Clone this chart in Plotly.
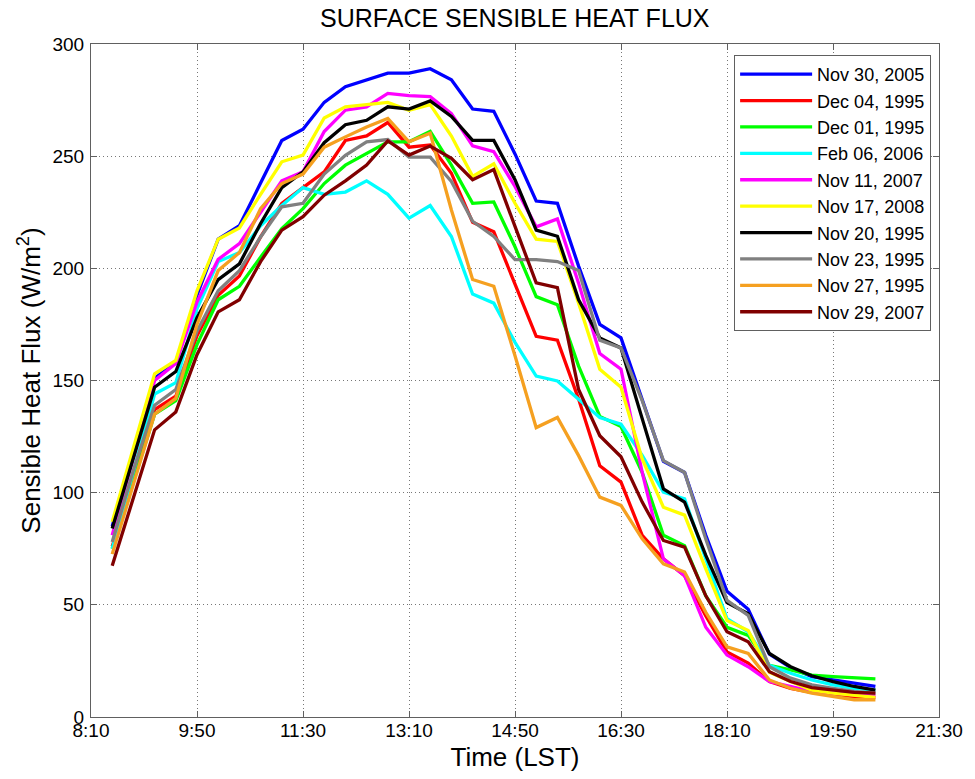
import plotly.graph_objects as go

# Time axis: minutes after midnight (8:30 .. 20:30 every 20 min)
times_min = list(range(510, 1231, 20))
tick_vals = [490, 590, 690, 790, 890, 990, 1090, 1190, 1290]
tick_text = ["8:10", "9:50", "11:30", "13:10", "14:50", "16:30", "18:10", "19:50", "21:30"]
y_ticks = [0, 50, 100, 150, 200, 250, 300]

nov30_2005 = [85, 118, 151, 158, 188, 213, 219, 238, 257, 262, 274, 281, 284, 287, 287, 289, 284, 271, 270, 251,
              230, 229, 201, 175, 169, 142, 114, 109, 81, 56, 48, 28, 22, 18, 16.5, 15, 13.6]
dec04_1995 = [76, 106, 137, 143, 170, 188, 196.6, 214, 229, 236, 243, 257, 259, 265, 254, 255, 242.4, 220.5, 216.3, 193,
              169.7, 168, 141.7, 112, 104.7, 81, 70.5, 63, 45, 29, 24, 15.8, 12.8, 11, 10.2, 9, 8.7]
dec01_1995 = [75, 105, 135, 141, 166, 186, 192, 205, 217.7, 226.6, 237.8, 246, 251, 256.4, 256.4, 261, 246, 229, 229.6, 209.6,
              187.4, 183.8, 156.4, 134, 129.5, 109, 81, 76.4, 54, 40, 36.4, 23, 21, 18.7, 18, 17.5, 17]
feb06_2006 = [75, 110, 144, 149, 182, 203, 207, 219, 228, 236, 233, 234, 239, 233, 222.4, 228, 214.2, 188.5, 184.5, 167,
              152, 149.8, 141.7, 133.5, 130.5, 116.6, 100.2, 97.3, 70.5, 43.8, 38, 23, 19.5, 16.5, 14.3, 12.8, 12]
nov11_2007 = [81, 116, 150, 157.6, 185, 204, 211, 225, 239, 243, 261, 270.5, 272, 278, 277, 276.5, 269, 254.6, 252, 236.5,
              218.5, 222, 193.4, 162, 155, 109, 70.5, 63, 40, 27.6, 22.4, 15.8, 13.6, 11.4, 10.6, 9.9, 9.6]
nov17_2008 = [87, 120, 153, 159, 190, 213, 218, 233, 247.5, 250.5, 267, 272, 273, 274, 270.5, 273, 259, 241, 246.6, 229,
              213, 212, 184.5, 155, 147, 115, 93.5, 90, 66, 43, 38.6, 20, 15.8, 12, 10.6, 9.6, 8.7]
nov20_1995 = [84, 116, 147, 154, 178, 195, 202, 220, 236, 243, 256, 264, 266, 272, 271, 274.6, 267.7, 257, 257, 239.5,
              217, 214.3, 186, 169, 164.5, 133, 101.7, 95.8, 72, 51, 46, 28.3, 22.4, 18.4, 15.8, 13.6, 12]
nov23_1995 = [78, 110, 139, 146, 172, 190, 199, 214, 227.4, 229, 242, 250.4, 256.4, 257.4, 249.6, 249.6, 238.7, 221, 214.2, 203.9,
              203.9, 203, 199, 168, 164.5, 141, 114.3, 109, 79.4, 52, 45.3, 22.4, 17.3, 14.3, 12.8, 11.4, 10.6]
nov27_1995 = [72.6, 104, 135, 142, 175, 199, 207, 226.6, 237.8, 242, 254, 258.6, 263, 266.8, 256.4, 260.2, 226, 195, 192, 161,
              129, 133.5, 116.5, 98, 94.3, 79.4, 68.3, 64.6, 46.7, 31.3, 28.3, 16.5, 12.8, 10.6, 9.1, 7.7, 7.7]
nov29_2007 = [67.4, 98, 128, 136, 161.5, 180.6, 186, 203, 217, 223, 232.6, 239, 246, 256.8, 250.5, 254.5, 249, 239.5, 244, 218.7,
              193.5, 191.4, 146, 125.4, 116, 95.8, 78.7, 75.7, 54, 38, 33.5, 20.2, 15.8, 13.1, 12, 11, 10.6]

series_names = ["Nov 30, 2005", "Dec 04, 1995", "Dec 01, 1995", "Feb 06, 2006", "Nov 11, 2007",
                "Nov 17, 2008", "Nov 20, 1995", "Nov 23, 1995", "Nov 27, 1995", "Nov 29, 2007"]
series_values = [nov30_2005, dec04_1995, dec01_1995, feb06_2006, nov11_2007,
                 nov17_2008, nov20_1995, nov23_1995, nov27_1995, nov29_2007]
series_colors = ["#0000FF", "#FF0000", "#00FF00", "#00FFFF", "#FF00FF",
                 "#FFFF00", "#000000", "#808080", "#F5A020", "#800000"]

FONT = "Arial, Liberation Sans, sans-serif"

fig = go.Figure()
for i, (name, vals, col) in enumerate(zip(series_names, series_values, series_colors)):
    fig.add_trace(go.Scatter(x=times_min, y=vals, mode="lines", name=name,
                             legendgroup=f"g{i}",
                             line=dict(color=col, width=3.3)))

axis_common = dict(
    showline=True, linecolor="#606060", linewidth=1, mirror="ticks",
    ticks="inside", ticklen=6, tickcolor="#606060",
    showgrid=True, gridcolor="#777777", griddash="1px,3px", gridwidth=1,
    zeroline=False,
    tickfont=dict(family=FONT, size=19, color="black"),
)

fig.update_layout(
    width=975, height=779,
    margin=dict(l=91, r=28, t=44, b=60),
    paper_bgcolor="white", plot_bgcolor="white",
    title=dict(text="SURFACE SENSIBLE HEAT FLUX", x=0.528, xanchor="center", y=0.977, yanchor="middle",
               font=dict(family=FONT, size=25, color="black")),
    xaxis=dict(range=[490, 1290], tickvals=tick_vals, ticktext=tick_text, ticklabelstandoff=-4,
               title=dict(text="Time (LST)", font=dict(family=FONT, size=26, color="black"), standoff=8),
               **axis_common),
    yaxis=dict(range=[0, 300], tickvals=y_ticks, ticklabelstandoff=2,
               title=dict(text="Sensible Heat Flux (W/m<sup>2</sup>)", font=dict(family=FONT, size=26, color="black"), standoff=4),
               **axis_common),
    legend=dict(x=0.9907, xanchor="right", y=0.9837, yanchor="top",
                bgcolor="white", bordercolor="#606060", borderwidth=1,
                font=dict(family=FONT, size=18, color="black"),
                traceorder="grouped", tracegroupgap=0, itemwidth=72),
    showlegend=True,
)

fig.write_html("out.html", config={"displayModeBar": False},
               post_script="document.body.style.margin='0px';")
